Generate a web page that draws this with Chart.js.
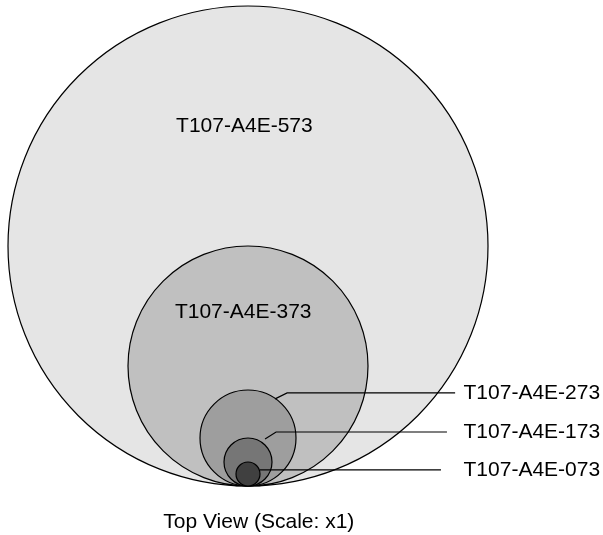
<!DOCTYPE html>
<html>
<head>
<meta charset="utf-8">
<script src="https://cdn.jsdelivr.net/npm/chart.js@4/dist/chart.umd.min.js"></script>
<style>
  html, body { margin: 0; padding: 0; background: #fff; }
  #wrap { width: 603px; height: 535px; position: relative; }
</style>
</head>
<body>
<div id="wrap"><canvas id="topView"></canvas></div>
<script>
// parts, largest first; radius in grid units (all circles touch at the bottom)
const parts = ["T107-A4E-573", "T107-A4E-373", "T107-A4E-273", "T107-A4E-173", "T107-A4E-073"];
const radii = [10, 5, 2, 1, 0.5];
const caption = "Top View (Scale: x1)";

const fills = ["#e5e5e5", "#c0c0c0", "#9e9e9e", "#767676", "#404040"];
const font = '21px "Liberation Sans", Arial, sans-serif';

// label placement in grid units
const inside = { 0: [-0.15, 15.0], 1: [-0.2, 7.25] };
const callouts = {
    2: [[1.13, 3.63], [1.63, 3.88], [8.63, 3.88]],
    3: [[0.71, 1.96], [1.17, 2.25], [8.29, 2.25]],
    4: [[0.5, 0.67], [0.5, 0.67], [8.04, 0.67]],
};
const calloutTextX = 8.98;
const captionPos = [0.45, -1.5];

const labels = {
    id: "labels",
    afterDatasetsDraw(chart) {
        const { ctx } = chart;
        const x = chart.scales.x, y = chart.scales.y;
        ctx.save();
        ctx.font = font;
        ctx.fillStyle = "#000";
        ctx.textBaseline = "middle";

        ctx.textAlign = "center";
        Object.entries(inside).forEach(([i, p]) => {
            ctx.fillText(parts[i], x.getPixelForValue(p[0]), y.getPixelForValue(p[1]));
        });
        ctx.fillText(caption, x.getPixelForValue(captionPos[0]), y.getPixelForValue(captionPos[1]));

        ctx.textAlign = "left";
        ctx.strokeStyle = "#000";
        ctx.lineWidth = 1.2;
        Object.entries(callouts).forEach(([i, pts]) => {
            ctx.beginPath();
            pts.forEach((p, k) => {
                const px = x.getPixelForValue(p[0]), py = y.getPixelForValue(p[1]);
                if (k === 0) ctx.moveTo(px, py);
                else ctx.lineTo(px, py);
            });
            ctx.stroke();
            const last = pts[pts.length - 1];
            ctx.fillText(parts[i], x.getPixelForValue(calloutTextX), y.getPixelForValue(last[1]));
        });
        ctx.restore();
    },
};

new Chart(document.getElementById("topView"), {
    type: "scatter",
    data: {
        datasets: [
            {
                data: radii.map((r) => ({ x: 0, y: r })),
                pointRadius: (c) => {
                    const s = c.chart.scales.x;
                    return s.getPixelForValue(radii[c.dataIndex]) - s.getPixelForValue(0);
                },
                pointBackgroundColor: fills,
                pointBorderColor: "#000",
                pointBorderWidth: 1.2,
                clip: false,
            },
        ],
    },
    options: {
        responsive: true,
        maintainAspectRatio: false,
        animation: false,
        events: [],
        layout: { padding: 0 },
        plugins: { legend: { display: false }, tooltip: { enabled: false } },
        scales: {
            x: { display: false, min: -248 / 24, max: 355 / 24 },
            y: { display: false, min: -49 / 24, max: 486 / 24 },
        },
    },
    plugins: [labels],
});
</script>
</body>
</html>
